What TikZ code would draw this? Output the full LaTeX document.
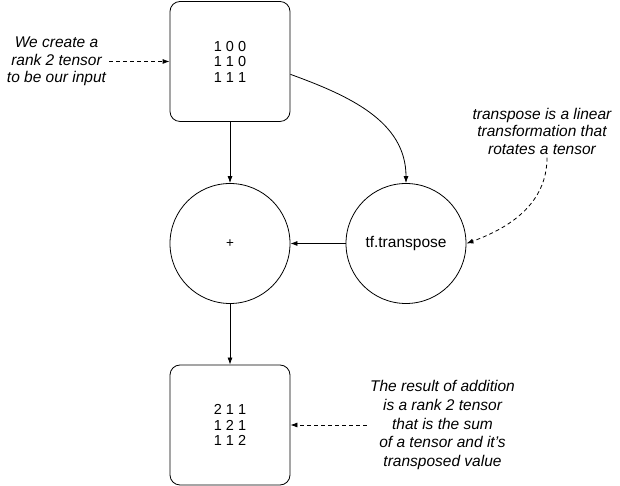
\documentclass[tikz,border=0pt]{standalone}
\usepackage{fontspec}
\setmainfont{Liberation Sans}
\usetikzlibrary{arrows.meta,positioning,shapes}

\begin{document}
\begin{tikzpicture}[x=1pt,y=1pt,line width=0.8pt,
    >={Latex[length=7pt,width=5pt]},
    tensor/.style={draw, rectangle, rounded corners=10pt, minimum width=120pt, minimum height=120pt, align=center, font=\fontsize{14.5}{15.5}\selectfont},
    op/.style={draw, circle, minimum size=120pt, font=\fontsize{15.5}{18}\selectfont},
    note/.style={align=center, inner sep=3pt, font=\fontsize{15.5}{17.5}\selectfont\itshape},
    hint/.style={->, dash pattern=on 4pt off 3pt}]
  \useasboundingbox (0,0) rectangle (620,486);

  % Tenseurs
  \node[tensor] (input) at (230,424.5) {1 0 0\\1 1 0\\1 1 1};
  \node[tensor] (result) at (230,61) {2 1 1\\1 2 1\\1 1 2};

  % Operations
  \node[op, font=\fontsize{13.5}{15}\selectfont] (add) at (230,242.5) {+};
  \node[op] (transpose) at (406,242.5) {tf.transpose};

  % Flux
  \draw[->] (input) -- (add);
  \draw[->] (add) -- (result);
  \draw[->] (transpose) -- (add);
  \draw[->] (input.-12) to[out=-20, in=90] (transpose.north);

  % Commentaires
  \node[note] (note1) at (56.5,424.5) {We create a\\rank 2 tensor\\to be our input};
  \node[note] (note2) at (542,355) {transpose is a linear\\transformation that\\rotates a tensor};
  \node[note, font=\fontsize{15.5}{18.75}\selectfont\itshape] (note3) at (442.5,61) {The result of addition\\is a rank 2 tensor\\that is the sum\\of a tensor and it’s\\transposed value};
  \draw[hint] (note1) -- (input);
  \draw[hint] ([xshift=5pt]note2.south) to[out=-90, in=20] (transpose.east);
  \draw[hint] (note3) -- (result);
\end{tikzpicture}
\end{document}
